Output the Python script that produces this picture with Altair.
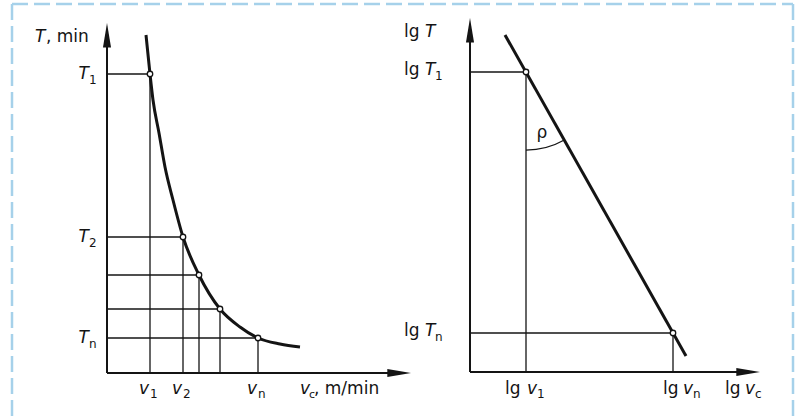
import math
import altair as alt
import pandas as pd

# ---------------- left panel: tool life T (min) against cutting speed v_c (m/min)
v_marks = [43, 76, 92, 113, 151]          # v1, v2, ..., vn
T_marks = [299, 136, 98, 64, 35]          # T1, T2, ..., Tn
v_subs = ["1", "2", "", "", "n"]
T_subs = ["1", "2", "", "", "n"]
curve_v = [39, 43, 46, 52, 58, 66, 76, 92, 113, 133, 151, 173, 193]
curve_T = [338, 299, 273, 240, 206, 173, 136, 98, 64, 46, 35, 29, 26]
v_axis_end = 304
T_axis_end = 350

# ---------------- right panel: lg T against lg v_c
lgv_marks = [56, 203]                     # lg v1, lg vn
lgT_marks = [300, 39]                     # lg T1, lg Tn
lgv_subs = ["1", "n"]
lgT_subs = ["1", "n"]
lg_line_v = [35, 216]
lg_line_T = [337, 16]
lgv_axis_end = 290
lgT_axis_end = 354

FONT = "DejaVu Sans"
INK = "#141414"
FRAME = "#a6d1ea"
MAIN = 17
SUB = 12

# each panel maps its own units onto a fixed stretch of the canvas
XL = alt.Scale(domain=[0, v_axis_end], range=[107, 411], nice=False, zero=False)
YL = alt.Scale(domain=[0, T_axis_end], range=[373, 23], nice=False, zero=False)
XR = alt.Scale(domain=[0, lgv_axis_end], range=[470, 760], nice=False, zero=False)
YR = alt.Scale(domain=[0, lgT_axis_end], range=[372, 18], nice=False, zero=False)


def enc_xy(xs, ys, xf="x", yf="y"):
    return dict(x=alt.X(f"{xf}:Q", scale=xs, axis=None),
                y=alt.Y(f"{yf}:Q", scale=ys, axis=None))


def segments(df, xs, ys, width):
    return alt.Chart(df).mark_rule(color=INK, strokeWidth=width).encode(
        x=alt.X("x:Q", scale=xs, axis=None), x2="x2:Q",
        y=alt.Y("y:Q", scale=ys, axis=None), y2="y2:Q")


def words(df, xs, ys, dx, dy, size=MAIN, italic=False, align="left"):
    df = df[df["t"] != ""]
    return alt.Chart(df).mark_text(
        font=FONT, fontSize=size, fontStyle="italic" if italic else "normal",
        align=align, baseline="alphabetic", dx=dx, dy=dy, color=INK
    ).encode(text="t:N", **enc_xy(xs, ys))


def one(x, y, t):
    return pd.DataFrame({"x": [x], "y": [y], "t": [t]})


UP_ARROW = "M0,0L0.33,2L-0.33,2Z"
RIGHT_ARROW = "M0,0L-2,-0.33L-2,0.33Z"


def arrows(xs, ys, x_end, y_end):
    up = alt.Chart(one(0, y_end, "")).mark_point(
        shape=UP_ARROW, size=600, filled=True, fill=INK, stroke=None, opacity=1
    ).encode(**enc_xy(xs, ys))
    right = alt.Chart(one(x_end, 0, "")).mark_point(
        shape=RIGHT_ARROW, size=560, filled=True, fill=INK, stroke=None, opacity=1
    ).encode(**enc_xy(xs, ys))
    return [up, right]


def open_points(df, xs, ys):
    return alt.Chart(df).mark_point(
        shape="circle", size=30, filled=True, fill="white", stroke=INK,
        strokeWidth=1.3, opacity=1
    ).encode(**enc_xy(xs, ys))


layers = []

# dashed frame
frame_style = dict(color=FRAME, strokeWidth=2.5, strokeDash=[16, 6])
layers.append(alt.Chart(one(0, 0, "")).mark_rule(**frame_style).encode(
    x=alt.value(12), x2=alt.value(793), y=alt.value(4)))
layers.append(alt.Chart(one(0, 0, "")).mark_rule(**frame_style).encode(
    x=alt.value(12), y=alt.value(4), y2=alt.value(420)))
layers.append(alt.Chart(one(0, 0, "")).mark_rule(**frame_style).encode(
    x=alt.value(793), y=alt.value(4), y2=alt.value(420)))

# ---------- left panel
left_pts = pd.DataFrame({"x": v_marks, "y": T_marks})
layers.append(segments(pd.DataFrame({"x": 0, "x2": v_marks, "y": T_marks, "y2": T_marks}), XL, YL, 1.3))
layers.append(segments(pd.DataFrame({"x": v_marks, "x2": v_marks, "y": 0, "y2": T_marks}), XL, YL, 1.3))
layers.append(segments(pd.DataFrame({"x": [0, 0], "x2": [0, v_axis_end - 8],
                                     "y": [0, 0], "y2": [T_axis_end - 8, 0]}), XL, YL, 2))
layers += arrows(XL, YL, v_axis_end, T_axis_end)
layers.append(alt.Chart(pd.DataFrame({"x": curve_v, "y": curve_T})).mark_line(
    interpolate="monotone", color=INK, strokeWidth=3).encode(**enc_xy(XL, YL)))
layers.append(open_points(left_pts, XL, YL))

# axis titles
layers.append(words(one(0, T_axis_end, "T"), XL, YL, dx=-72, dy=19, italic=True))
layers.append(words(one(0, T_axis_end, ", min"), XL, YL, dx=-61, dy=19))
layers.append(words(one(v_axis_end, 0, "v"), XL, YL, dx=-111, dy=21, italic=True))
layers.append(words(one(v_axis_end, 0, "c"), XL, YL, dx=-102, dy=25, size=11))
layers.append(words(one(v_axis_end, 0, ", m/min"), XL, YL, dx=-97, dy=21))

# tick labels T1 ... Tn and v1 ... vn
T_lab = pd.DataFrame({"x": 0, "y": T_marks, "s": T_subs})
T_main = T_lab.assign(t=["T" if s else "" for s in T_subs])
layers.append(words(T_main, XL, YL, dx=-18, dy=5, italic=True, align="right"))
layers.append(words(T_lab.assign(t=T_subs), XL, YL, dx=-18, dy=10, size=SUB))
v_lab = pd.DataFrame({"x": v_marks, "y": 0, "s": v_subs})
v_main = v_lab.assign(t=["v" if s else "" for s in v_subs])
layers.append(words(v_main, XL, YL, dx=-1, dy=21, italic=True, align="right"))
layers.append(words(v_lab.assign(t=v_subs), XL, YL, dx=0, dy=25, size=SUB))

# ---------- right panel
right_pts = pd.DataFrame({"x": lgv_marks, "y": lgT_marks})
layers.append(segments(pd.DataFrame({"x": 0, "x2": lgv_marks, "y": lgT_marks, "y2": lgT_marks}), XR, YR, 1.3))
layers.append(segments(pd.DataFrame({"x": lgv_marks, "x2": lgv_marks, "y": 0, "y2": lgT_marks}), XR, YR, 1.3))
layers.append(segments(pd.DataFrame({"x": [0, 0], "x2": [0, lgv_axis_end - 8],
                                     "y": [0, 0], "y2": [lgT_axis_end - 8, 0]}), XR, YR, 2))
layers += arrows(XR, YR, lgv_axis_end, lgT_axis_end)
layers.append(alt.Chart(pd.DataFrame({"x": lg_line_v, "y": lg_line_T})).mark_line(
    color=INK, strokeWidth=3).encode(**enc_xy(XR, YR)))
layers.append(open_points(right_pts, XR, YR))

# angle rho between the vertical through lg v1 and the straight line
px_x = (760 - 470) / lgv_axis_end
px_y = (372 - 18) / lgT_axis_end
ddx = (lgv_marks[1] - lgv_marks[0]) * px_x
ddy = (lgT_marks[0] - lgT_marks[1]) * px_y
theta_line = math.atan2(ddx, -ddy) % (2 * math.pi)
layers.append(alt.Chart(one(lgv_marks[0], lgT_marks[0], "")).mark_arc(
    radius=78.7, radius2=77.5, theta=theta_line, theta2=math.pi,
    color=INK, stroke=None).encode(**enc_xy(XR, YR)))
layers.append(words(one(lgv_marks[0], lgT_marks[0], "ρ"), XR, YR, dx=16, dy=66, align="center"))

# axis titles
layers.append(words(one(0, lgT_axis_end, "lg"), XR, YR, dx=-66, dy=19))
layers.append(words(one(0, lgT_axis_end, "T"), XR, YR, dx=-45, dy=19, italic=True))
layers.append(words(one(lgv_axis_end, 0, "lg"), XR, YR, dx=-35, dy=22))
layers.append(words(one(lgv_axis_end, 0, "v"), XR, YR, dx=-15, dy=22, italic=True))
layers.append(words(one(lgv_axis_end, 0, "c"), XR, YR, dx=-5, dy=26, size=SUB))

# tick labels lg T1, lg Tn
for yv, s in zip(lgT_marks, lgT_subs):
    layers.append(words(one(0, yv, "lg"), XR, YR, dx=-66, dy=3))
    layers.append(words(one(0, yv, "T"), XR, YR, dx=-45, dy=3, italic=True))
    layers.append(words(one(0, yv, s), XR, YR, dx=-35, dy=8, size=SUB))

# tick labels lg v1, lg vn
for xv, s, shift, gap in zip(lgv_marks, lgv_subs, [-21, -10], [22, 20]):
    layers.append(words(one(xv, 0, "lg"), XR, YR, dx=shift, dy=22))
    layers.append(words(one(xv, 0, "v"), XR, YR, dx=shift + gap, dy=22, italic=True))
    layers.append(words(one(xv, 0, s), XR, YR, dx=shift + gap + 10, dy=26, size=SUB))

chart = alt.layer(*layers).resolve_scale(x="independent", y="independent").properties(
    width=800, height=417, padding=0,
    autosize=alt.AutoSizeParams(type="none"),
).configure_view(stroke=None)

chart.save("out.html", embed_options={"renderer": "svg", "actions": False})
